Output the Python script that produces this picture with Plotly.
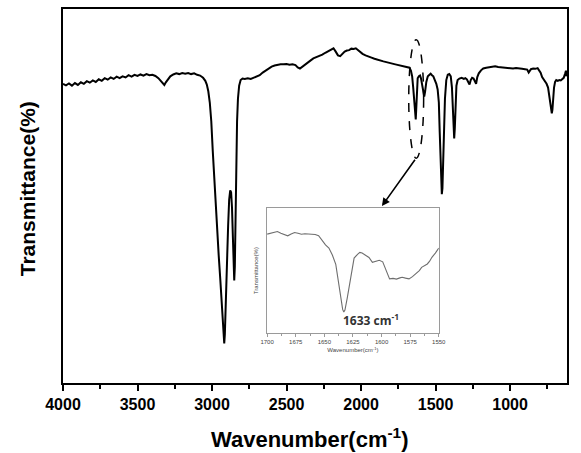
import plotly.graph_objects as go

# ---- main FTIR spectrum (wavenumber, transmittance in arbitrary %) ----
wn_main = [4000, 3980, 3960, 3940, 3920, 3900, 3880, 3860, 3840, 3820, 3800, 3780, 3760, 3740, 3720,
           3700, 3680, 3660, 3640, 3620, 3600, 3580, 3560, 3540, 3520, 3500, 3480, 3460, 3440, 3420,
           3400, 3380, 3360, 3345, 3330, 3320, 3310, 3295, 3280, 3260, 3240, 3220, 3200, 3180, 3160,
           3140, 3120, 3100, 3080, 3060, 3045, 3035, 3025, 3015, 3005, 2995, 2985, 2975, 2965, 2955,
           2945, 2935, 2928, 2922, 2918, 2914, 2908, 2900, 2892, 2885, 2878, 2872, 2866, 2860, 2855,
           2851, 2847, 2842, 2837, 2832, 2826, 2818, 2808, 2795, 2780, 2760, 2740, 2720, 2700, 2680,
           2660, 2640, 2620, 2600, 2580, 2560, 2540, 2520, 2500, 2480, 2460, 2440, 2425, 2410, 2395,
           2380, 2360, 2340, 2320, 2300, 2280, 2260, 2240, 2220, 2200, 2185, 2170, 2155, 2140, 2125,
           2110, 2095, 2080, 2065, 2050, 2035, 2020, 2005, 1990, 1970, 1950, 1930, 1910, 1890, 1870,
           1850, 1830, 1810, 1790, 1770, 1750, 1730, 1710, 1690, 1675, 1665, 1657, 1650, 1645, 1640,
           1636, 1633, 1630, 1626, 1620, 1612, 1604, 1598, 1590, 1582, 1576, 1570, 1562, 1552, 1542,
           1533, 1524, 1515, 1505, 1495, 1486, 1478, 1472, 1466, 1462, 1458, 1454, 1449, 1444, 1437,
           1428, 1418, 1408, 1398, 1390, 1384, 1378, 1375, 1371, 1366, 1360, 1352, 1340, 1325, 1310,
           1300, 1290, 1280, 1272, 1264, 1255, 1245, 1236, 1228, 1220, 1210, 1195, 1180, 1160, 1140,
           1120, 1100, 1080, 1060, 1040, 1020, 1000, 980, 960, 940, 920, 900, 885, 875, 868,
           860, 845, 830, 815, 805, 795, 785, 775, 765, 755, 745, 738, 731, 725, 720,
           716, 711, 705, 698, 690, 680, 670, 660, 650, 640, 630, 625, 620]
tr_main = [80.0, 79.6, 80.1, 79.5, 80.2, 79.7, 80.4, 80.0, 80.7, 80.3, 80.9, 80.5, 81.2, 80.8, 81.5,
           81.1, 81.7, 81.3, 81.9, 81.5, 82.0, 81.7, 82.3, 81.9, 82.4, 82.1, 82.5, 82.2, 82.6, 82.3,
           82.4, 82.1, 81.5, 80.9, 80.2, 79.7, 80.4, 81.3, 82.0, 82.5, 82.8, 82.6, 82.9, 82.7, 82.9,
           82.6, 82.8, 82.4, 82.2, 81.6, 80.8, 79.8, 78.0, 75.0, 70.0, 62.0, 54.0, 46.0, 40.0, 34.0,
           28.0, 22.0, 16.0, 11.5, 10.6, 13.0, 22.0, 32.0, 42.0, 49.0, 51.5, 51.0, 47.0, 39.0, 31.0,
           27.4, 31.0, 45.0, 60.0, 70.0, 76.0, 79.5, 81.0, 81.4, 81.3, 81.5, 81.3, 81.6, 81.8, 82.3,
           83.0, 83.6, 84.2, 84.6, 84.9, 85.1, 85.2, 85.2, 85.3, 85.1, 85.2, 85.0, 84.4, 84.1, 84.5,
           85.0, 85.6, 86.2, 86.8, 87.1, 87.4, 87.8, 88.3, 88.8, 89.1, 89.5, 88.6, 87.6, 87.4, 88.0,
           88.6, 88.9, 89.0, 89.4, 89.3, 89.5, 89.0, 88.6, 88.0, 87.6, 87.2, 87.0, 86.7, 86.4, 86.2,
           86.0, 85.8, 85.7, 85.4, 85.2, 85.0, 84.8, 84.7, 84.4, 84.3, 83.5, 82.0, 79.0, 76.0, 73.0,
           71.0, 70.5, 73.0, 78.0, 81.5, 82.0, 82.2, 81.5, 79.5, 77.5, 76.6, 78.0, 80.5, 82.0, 82.4,
           82.7, 82.3, 82.0, 81.0, 80.0, 78.5, 75.0, 67.0, 58.0, 53.0, 50.5, 52.0, 58.0, 68.0, 76.0,
           81.0, 82.4, 82.6, 82.0, 79.0, 72.0, 66.5, 65.4, 68.0, 74.0, 79.5, 81.0, 81.4, 81.6, 81.3,
           81.5, 81.2, 80.4, 79.8, 81.0, 81.6, 81.4, 80.6, 80.0, 81.8, 82.8, 83.6, 84.1, 84.3, 84.5,
           84.6, 84.7, 84.5, 84.4, 84.5, 84.3, 84.3, 84.1, 84.2, 84.0, 84.0, 83.9, 83.8, 83.0, 83.4,
           83.9, 84.1, 84.0, 84.2, 83.6, 83.0, 81.8, 81.2, 80.6, 80.0, 79.0, 77.0, 74.0, 72.5, 72.1,
           73.0, 76.0, 79.0, 80.5, 81.0, 80.8, 81.0, 80.9, 81.3, 81.6, 82.8, 83.5, 82.0]

# ---- inset: zoom of 1700-1550 cm-1 ----
wn_inset = [1700, 1697, 1694, 1691, 1688, 1685, 1682, 1679, 1676, 1673, 1670, 1667, 1664, 1661, 1658,
            1655, 1652, 1649, 1646, 1643, 1640, 1638, 1636, 1634, 1633, 1632, 1630, 1628, 1626, 1624,
            1621, 1619, 1617, 1614, 1611, 1608, 1605, 1602, 1599, 1597, 1595, 1593, 1590, 1587, 1584,
            1582, 1579, 1576, 1573, 1570, 1567, 1565, 1562, 1560, 1558, 1556, 1553, 1551, 1550]
tr_inset = [79.1, 80.0, 80.8, 81.2, 79.8, 78.5, 77.8, 79.2, 80.4, 79.8, 79.0, 79.4, 79.2, 79.6, 78.8,
            77.8, 74.0, 70.5, 68.0, 62.5, 55.0, 42.0, 30.0, 19.0, 16.9, 18.5, 28.0, 39.4, 50.0, 60.0,
            63.0, 64.5, 64.0, 62.0, 60.5, 56.6, 57.2, 58.2, 57.0, 52.6, 47.0, 43.4, 43.8, 43.2, 44.2,
            44.7, 44.0, 43.4, 45.2, 47.4, 50.0, 52.6, 54.5, 55.3, 57.5, 60.6, 64.0, 67.2, 68.0]

main_ticks = [4000, 3500, 3000, 2500, 2000, 1500, 1000]
inset_ticks = [1700, 1675, 1650, 1625, 1600, 1575, 1550]

FONT = "Liberation Sans"

fig = go.Figure()
fig.add_trace(go.Scatter(x=wn_main, y=tr_main, mode="lines",
                         line=dict(color="black", width=2), showlegend=False))
fig.add_trace(go.Scatter(x=wn_inset, y=tr_inset, mode="lines", xaxis="x2", yaxis="y2",
                         line=dict(color="#6e6e6e", width=1.1), showlegend=False))

fig.update_layout(
    width=581, height=453,
    margin=dict(l=63, r=7, t=7, b=70),
    paper_bgcolor="white", plot_bgcolor="white",
    font=dict(family=FONT, color="black"),
    xaxis=dict(range=[4000, 618], showgrid=False, zeroline=False,
               showline=True, linecolor="black", linewidth=2, mirror=True,
               ticks="outside", ticklen=6, tickwidth=2, tickcolor="black",
               tickvals=main_ticks, ticktext=[str(t) for t in main_ticks],
               tickfont=dict(family=FONT, size=16, weight="bold"),
               minor=dict(ticks="outside", ticklen=4, tickwidth=2, tickcolor="black",
                          dtick=250, tick0=0, showgrid=False)),
    yaxis=dict(range=[0, 100], showgrid=False, zeroline=False,
               showline=True, linecolor="black", linewidth=2, mirror=True,
               ticks="", showticklabels=False),
    xaxis2=dict(domain=[0.405, 0.7456], anchor="y2", range=[1700, 1550],
                showgrid=False, zeroline=False,
                showline=True, linecolor="#9a9a9a", linewidth=1, mirror=True,
                ticks="outside", ticklen=3, tickwidth=1, tickcolor="#9a9a9a",
                tickvals=inset_ticks, ticktext=[str(t) for t in inset_ticks],
                tickfont=dict(family=FONT, size=6, color="#444444"),
                minor=dict(ticks="outside", ticklen=2, tickwidth=1, tickcolor="#9a9a9a",
                           dtick=12.5, tick0=1550),
                title=dict(text="Wavenumber(cm<sup>-1</sup>)", standoff=3,
                           font=dict(family=FONT, size=6, color="#444444"))),
    yaxis2=dict(domain=[0.133, 0.468], anchor="x2", range=[0, 100],
                showgrid=False, zeroline=False,
                showline=True, linecolor="#9a9a9a", linewidth=1, mirror=True,
                ticks="", showticklabels=False,
                title=dict(text="Transmittance(%)", standoff=7,
                           font=dict(family=FONT, size=6, color="#444444"))),
)

# axis titles
fig.add_annotation(text="Wavenumber(cm<sup>-1</sup>)", xref="paper", yref="paper",
                   x=0.49, y=-0.146, showarrow=False, xanchor="center", yanchor="middle",
                   font=dict(family=FONT, size=22, weight="bold"))
fig.add_annotation(text="Transmittance(%)", xref="paper", yref="paper",
                   x=-0.07, y=0.52, showarrow=False, textangle=-90,
                   xanchor="center", yanchor="middle",
                   font=dict(family=FONT, size=21, weight="bold"))

# dashed ellipse around 1633 cm-1 band
fig.add_shape(type="circle", xref="x", yref="y", x0=1680, x1=1580, y0=60.1, y1=91.8,
              line=dict(color="black", width=1.5, dash="dash"))

# arrow to inset
fig.add_annotation(x=1860, y=47.3, ax=1631, ay=60.1, xref="x", yref="y",
                   axref="x", ayref="y", text="", showarrow=True,
                   arrowhead=2, arrowsize=1, arrowwidth=1.6, arrowcolor="black")

# label inside inset
fig.add_annotation(text="1633 cm<sup>-1</sup>", xref="x2", yref="y2", x=1609.5, y=10.3,
                   showarrow=False, xanchor="center", yanchor="middle",
                   font=dict(family="Open Sans", size=12, weight="bold", color="#333333"))

fig.write_html("out.html")
